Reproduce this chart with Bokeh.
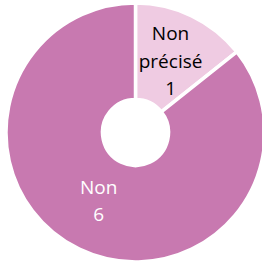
import math
from bokeh.plotting import figure
from bokeh.models import Range1d, ColumnDataSource
from bokeh.core.properties import value
from bokeh.embed import file_html
from bokeh.resources import INLINE

categories = ["Non précisé", "Non"]
counts = [1, 6]
colors = ["#EFCBE2", "#C879B0"]
label_colors = ["#000000", "#FFFFFF"]

total = sum(counts)
starts, ends = [], []
a = math.pi / 2
for c in counts:
    starts.append(a)
    a = a - 2 * math.pi * c / total
    ends.append(a)

src = ColumnDataSource(dict(cat=categories, val=counts, start=starts, end=ends, color=colors))

p = figure(width=262, height=264, output_backend="svg", toolbar_location=None,
           x_range=Range1d(-135, 127), y_range=Range1d(-132, 132),
           min_border=0)
p.axis.visible = False
p.grid.visible = False
p.outline_line_color = None
p.background_fill_color = None
p.border_fill_color = None

p.annular_wedge(x=0, y=0, inner_radius=33, outer_radius=129.5,
                start_angle="end", end_angle="start", fill_color="color",
                line_color="white", line_width=3.5, source=src)

# label placement (polar)
label_angles = [math.radians(64), math.radians(-118.5)]
label_r = [80, 77]
lx = [r * math.cos(t) for r, t in zip(label_r, label_angles)]
ly = [r * math.sin(t) for r, t in zip(label_r, label_angles)]
texts = [f"{c.replace(' ', chr(10))}\n{v}" for c, v in zip(categories, counts)]
lsrc = ColumnDataSource(dict(x=lx, y=ly, t=texts, c=label_colors))
p.text(x="x", y="y", text="t", text_color="c", source=lsrc,
       text_font=value("Open Sans"), text_font_size="19px",
       text_align="center", text_baseline="middle", text_line_height=1.05)

open("out.html", "w").write(file_html(p, INLINE))
